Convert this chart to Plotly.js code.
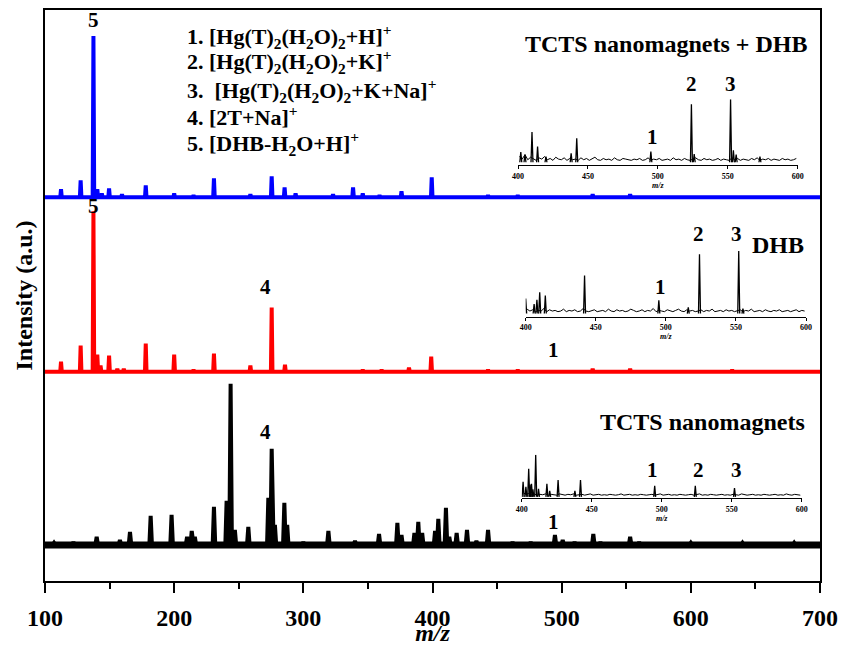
<!DOCTYPE html>
<html>
<head>
<meta charset="utf-8">
<script src="https://cdn.plot.ly/plotly-3.0.1.min.js"></script>
<style>html,body{margin:0;padding:0;background:#fff;}#chart{width:842px;height:646px;}</style>
</head>
<body>
<div id="chart"></div>
<script>
// ---------- DATA ----------
// main spectra: [m/z, intensity (a.u.)]
const peaksDHBNano = [ // TCTS nanomagnets + DHB (blue)
  [112.4,8],[127.6,17],[137.5,161],[140.5,8],[144,4],[149.6,9],[159.6,3],[178,12],[200,4],[215,2],
  [230.8,19],[259,3],[275.5,21],[285.5,10],[294,4],[323,3],[338.5,10],[346,4],[359,2],[376,6],
  [399.4,20],[443,2],[466,2],[524,3],[553,3]
];
const peaksDHB = [ // DHB (red)
  [112.4,10],[127.6,26],[137.5,160],[140.5,17],[143,6],[149.6,16],[156,3],[161,3],[178,28],[200,17],
  [215,2],[230.8,18],[259,6],[275.5,64],[285.8,7],[346,2],[360.6,2],[381.8,4],[399,15],[443,2],
  [466,2],[524,3],[553,3],[632,2]
];
const peaksNano = [ // TCTS nanomagnets (black)
  [107,2],[122,3],[140,8],[158,5],[165.8,13],[181.8,29],[198,30],[210,8],[213.6,14],[216,8],
  [230.8,38],[240.6,44],[243.7,161],[247,15],[257.4,18],[272.9,47],[275.5,96],[278,20],[285.3,42],[287.5,20],
  [300,3],[319.4,14],[340,4],[358.6,11],[372.8,22],[376,10],[386,12],[389,23],[392,12],[402,14],
  [404.5,26],[410.4,37],[413,8],[418.7,12],[426.7,15],[434,4],[443,15],[462,3],[476,3],[494.8,10],
  [500.8,5],[510,3],[524.5,11],[530,3],[553,8],[560,3],[600,2],[640,2],[680,2]
];
// inset spectra (400-600): [m/z, relative intensity]
const insetPeaksDHBNano = [[402,16],[405,12],[410,48],[414,25],[420,9],[438,14],[442,38],[495,17],[524,92],[526,13],[552,100],[554,19],[556,12],[573,9]];
const insetPeaksDHB = [[400,24],[406,15],[408,22],[410,34],[414,29],[442,61],[495,21],[516,10],[524,95],[552,100],[555,8]];
const insetPeaksNano = [[401,36],[403,24],[405,67],[406,29],[407,31],[408,18],[410,100],[412,19],[418,31],[420,14],[426,40],[438,14],[442,40],[495,26],[524,26],[552,21]];
// inset baseline noise (every 2 m/z from 401 to 599)
const insetNoiseDHBNano = [9,5,12,4,8,6,3,7,5,9,4,6,3,8,5,4,7,3,6,4,5,3,7,4,6,3,5,8,4,3,6,4,5,3,7,4,3,6,5,4,3,5,4,6,3,4,7,3,5,4,6,3,4,5,3,7,4,5,3,6,4,3,5,7,4,3,6,4,5,3,4,6,3,5,4,3,7,4,6,3,5,4,3,6,4,7,3,5,4,6,3,5,4,3,6,4,5,3,4,6];
const insetNoiseDHB = [7,4,6,3,5,4,8,3,6,4,5,3,4,7,3,5,4,6,3,4,8,4,3,5,6,3,4,5,3,7,4,3,6,4,5,3,4,7,5,3,4,6,3,5,4,8,3,5,4,3,6,4,3,5,7,4,3,6,4,5,3,4,6,3,5,4,7,3,4,5,3,6,4,5,3,4,6,3,5,4,7,3,4,5,3,6,4,3,5,4,6,3,4,5,3,4,6,3,5,4];
const insetNoiseNano = [10,6,8,5,7,4,6,5,7,4,6,5,4,7,5,4,6,5,7,4,5,6,4,5,7,4,5,6,4,5,4,6,5,4,5,7,4,5,6,4,5,4,6,5,4,5,6,4,5,7,4,5,6,4,5,4,6,5,4,5,6,4,5,7,4,5,4,6,5,4,5,6,4,5,4,6,5,4,7,5,4,5,6,4,5,4,6,5,4,5,6,4,5,4,7,5,4,6,5,4];
const legendLines = [
  '1. [Hg(T)<sub>2</sub>(H<sub>2</sub>O)<sub>2</sub>+H]<sup>+</sup>',
  '2. [Hg(T)<sub>2</sub>(H<sub>2</sub>O)<sub>2</sub>+K]<sup>+</sup>',
  '3.  [Hg(T)<sub>2</sub>(H<sub>2</sub>O)<sub>2</sub>+K+Na]<sup>+</sup>',
  '4. [2T+Na]<sup>+</sup>',
  '5. [DHB-H<sub>2</sub>O+H]<sup>+</sup>'
];
const panelTitles = ['TCTS nanomagnets + DHB', 'DHB', 'TCTS nanomagnets'];
const xTicks = [100,200,300,400,500,600,700];
const insetTicks = [400,450,500,550,600];

// ---------- LAYOUT CONSTANTS ----------
const OFF_BLUE = 383, OFF_RED = 209, OFF_BLACK = 36;
const FONT = 'Liberation Serif, Times New Roman, serif';

function stick(peaks, hw, base) {
  const xs = [100], ys = [base];
  peaks.slice().sort((a,b)=>a[0]-b[0]).forEach(([m,h]) => {
    xs.push(m-hw, m, m+hw); ys.push(base, base+h, base);
  });
  xs.push(700); ys.push(base);
  return {x: xs, y: ys};
}
function sticksGap(peaks, hw) {
  const xs = [], ys = [];
  peaks.forEach(([m,h]) => { xs.push(m-hw, m, m+hw, null); ys.push(0, h, 0, null); });
  return {x: xs, y: ys};
}
function noiseLine(vals) {
  const xs = vals.map((v,i)=>401+2*i);
  return {x: xs, y: vals};
}

const b = stick(peaksDHBNano, 0.6, OFF_BLUE);
const r = stick(peaksDHB, 0.6, OFF_RED);
const k = stick(peaksNano, 1.0, OFF_BLACK);

const traces = [
  {x: b.x, y: b.y, mode:'lines', line:{color:'#0000ff', width:4}, xaxis:'x', yaxis:'y'},
  {x: r.x, y: r.y, mode:'lines', line:{color:'#ff0000', width:4}, xaxis:'x', yaxis:'y'},
  {x: [100,700], y: [OFF_BLACK, OFF_BLACK], mode:'lines', line:{color:'#000', width:7}, xaxis:'x', yaxis:'y'},
  {x: k.x, y: k.y, mode:'lines', line:{color:'#000', width:4}, xaxis:'x', yaxis:'y'}
];
const insets = [
  [insetPeaksDHBNano, insetNoiseDHBNano, 'x2', 'y2'],
  [insetPeaksDHB, insetNoiseDHB, 'x3', 'y3'],
  [insetPeaksNano, insetNoiseNano, 'x4', 'y4']
];
insets.forEach(([p, n, xa, ya]) => {
  const nl = noiseLine(n);
  traces.push({x: nl.x, y: nl.y, mode:'lines', line:{color:'#000', width:1}, xaxis:xa, yaxis:ya});
  const s = sticksGap(p, 0.7);
  traces.push({x: s.x, y: s.y, mode:'lines', line:{color:'#000', width:1.3}, xaxis:xa, yaxis:ya});
});

function insetX(domain, anchor) {
  return {domain: domain, anchor: anchor, range:[400,600], showline:true, linecolor:'#000', linewidth:1,
    ticks:'outside', ticklen:3, tickwidth:1, tickcolor:'#000', tickvals: insetTicks, showgrid:false, zeroline:false,
    tickfont:{family:FONT, size:8, weight:'bold', color:'#000'},
    title:{text:'m/z', font:{family:FONT, size:8, weight:'bold', style:'italic', color:'#000'}, standoff:1}};
}
function insetY(domain, anchor, lo) {
  return {domain: domain, anchor: anchor, range:[lo,100], visible:false};
}

// pixel helpers for annotation placement (plot area 45..820 x 11..581)
const px = v => (v-45)/775, py = v => (581-v)/570;

const lblFont = {family:FONT, size:21, weight:'bold', color:'#000'};
const ann = [];
const legY = [37, 62, 91, 117, 144];
legendLines.forEach((t,i) => ann.push({text:t, xref:'paper', yref:'paper', x:px(185), y:py(legY[i]), xanchor:'left', yanchor:'middle', showarrow:false, font:{family:FONT, size:22, weight:'bold', color:'#000'}}));
// peak labels on main spectra
[[137.5,560,'5'],[137.5,374,'5'],[270.9,293,'4'],[270.9,149,'4'],[493.3,231,'1'],[493.3,59,'1']].forEach(([x,y,t]) =>
  ann.push({text:t, xref:'x', yref:'y', x:x, y:y, showarrow:false, xanchor:'center', yanchor:'middle', font:lblFont}));
// inset labels (pixel positions)
[[652,138,'1'],[691,85,'2'],[730,85,'3'],
 [660,288,'1'],[698,235,'2'],[736,235,'3'],
 [652,470,'1'],[698,470,'2'],[736,470,'3']].forEach(([x,y,t]) =>
  ann.push({text:t, xref:'paper', yref:'paper', x:px(x), y:py(y), showarrow:false, xanchor:'center', yanchor:'middle', font:lblFont}));
// panel titles
const tFont = {family:FONT, size:24, weight:'bold', color:'#000'};
[[666,45],[778,246],[702,422]].forEach(([x,y],i) =>
  ann.push({text:panelTitles[i], xref:'paper', yref:'paper', x:px(x), y:py(y), showarrow:false, xanchor:'center', yanchor:'middle', font:tFont}));

const layout = {
  width:842, height:646, margin:{l:45, r:22, t:10, b:65},
  paper_bgcolor:'#fff', plot_bgcolor:'#fff', showlegend:false,
  xaxis:{range:[100,700], tickvals:xTicks, ticks:'outside', ticklen:10, tickwidth:2, tickcolor:'#000',
    showline:true, mirror:true, linecolor:'#000', linewidth:2, showgrid:false, zeroline:false,
    ticklabelstandoff:4,
    tickfont:{family:FONT, size:24, weight:'bold', color:'#000'},
    minor:{dtick:50, tick0:100, ticks:'outside', ticklen:6, tickwidth:2, tickcolor:'#000', showgrid:false},
    title:{text:'m/z', font:{family:FONT, size:24, weight:'bold', style:'italic', color:'#000'}, standoff:0}},
  yaxis:{range:[0,570], showline:true, mirror:true, linecolor:'#000', linewidth:2, showgrid:false, zeroline:false,
    showticklabels:false, ticks:'',
    title:{text:'Intensity (a.u.)', font:{family:FONT, size:24, weight:'bold', color:'#000'}, standoff:4}},
  xaxis2: insetX([px(518),px(797.7)], 'y2'), yaxis2: insetY([py(165.7),py(100)], 'x2', -4.3),
  xaxis3: insetX([px(525.7),px(806)], 'y3'), yaxis3: insetY([py(317.3),py(251.7)], 'x3', -5.3),
  xaxis4: insetX([px(521.7),px(801.7)], 'y4'), yaxis4: insetY([py(498.3),py(455)], 'x4', -3.1),
  annotations: ann
};
Plotly.newPlot('chart', traces, layout, {staticPlot:true, displayModeBar:false});
</script>
</body>
</html>
